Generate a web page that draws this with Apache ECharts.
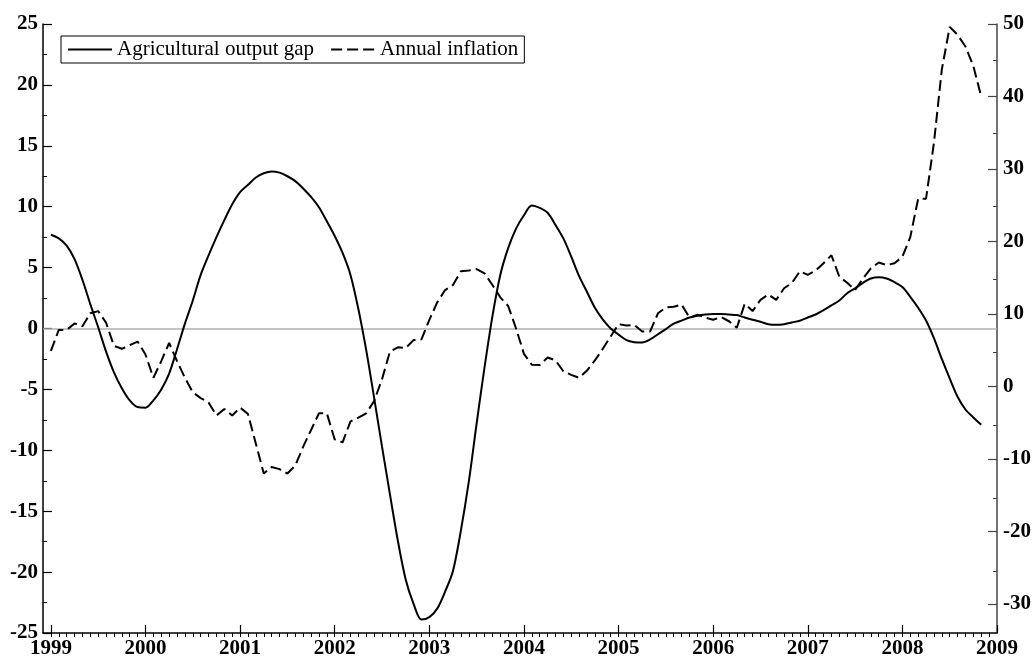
<!DOCTYPE html>
<html>
<head>
<meta charset="utf-8">
<script src="https://cdn.jsdelivr.net/npm/echarts@6/dist/echarts.min.js"></script>
<style>
html,body{margin:0;padding:0;background:#fff;}
#chart{width:1035px;height:659px;}
</style>
</head>
<body>
<div id="chart"></div>
<script>
// ---- data (monthly, starting January 1999) ----
const startYear = 1999;
const seriesNames = ['Agricultural output gap', 'Annual inflation'];
const gapValues = [
  7.7, 7.4, 6.8, 5.7, 4.0, 2.0, 0.1, -1.9, -3.6, -4.9, -5.9, -6.45,
  -6.5, -5.9, -5.0, -3.7, -1.7, 0.4, 2.3, 4.4, 6.0, 7.5, 8.9, 10.2,
  11.2, 11.8, 12.4, 12.75, 12.9, 12.8, 12.5, 12.1, 11.5, 10.8, 9.95, 8.8,
  7.6, 6.2, 4.4, 1.6, -1.8, -5.7, -9.7, -13.6, -17.4, -20.6, -22.6, -23.9,
  -23.7, -23.0, -21.6, -19.9, -16.6, -12.6, -7.8, -3.2, 1.0, 4.4, 6.6, 8.2,
  9.3, 10.1, 9.9, 9.5, 8.5, 7.4, 5.9, 4.3, 3.0, 1.7, 0.75, 0.0,
  -0.5, -0.95, -1.12, -1.15, -0.9, -0.47, -0.05, 0.4, 0.65, 0.9, 1.05, 1.15,
  1.2, 1.2, 1.15, 1.1, 0.9, 0.72, 0.55, 0.35, 0.3, 0.35, 0.5, 0.64,
  0.9, 1.15, 1.5, 1.9, 2.3, 2.9, 3.3, 3.75, 4.1, 4.2, 4.1, 3.8,
  3.4, 2.6, 1.7, 0.65, -0.8, -2.5, -4.1, -5.6, -6.65, -7.3, -7.9
];
const inflationValues = [
  4.9, 7.8, 7.8, 8.7, 8.3, 10.1, 10.4, 8.8, 5.6, 5.2, 5.7, 6.2,
  4.4, 1.2, 3.5, 6.0, 3.5, 1.2, -0.8, -1.6, -2.2, -4.0, -3.1, -4.0,
  -2.9, -3.8, -7.9, -12.0, -11.1, -11.4, -12.0, -10.9, -8.3, -6.0, -3.7, -3.7,
  -7.3, -7.7, -4.8, -4.3, -3.7, -2.0, 1.0, 4.8, 5.4, 5.3, 6.4, 6.5,
  9.2, 11.6, 13.3, 14.0, 15.9, 16.0, 16.2, 15.6, 14.0, 12.3, 11.1, 8.0,
  4.5, 3.0, 2.95, 4.0, 3.6, 2.1, 1.6, 1.2, 2.2, 3.6, 5.2, 6.9,
  8.6, 8.4, 8.5, 7.6, 7.6, 10.1, 10.9, 11.0, 11.3, 9.5, 9.9, 9.5,
  9.2, 9.6, 9.0, 8.1, 11.4, 10.4, 11.95, 12.7, 11.95, 13.55, 14.3, 15.9,
  15.4, 16.0, 17.0, 18.1, 15.15, 14.3, 13.3, 14.9, 16.3, 17.1, 16.75, 17.0,
  17.9, 20.6, 25.9, 25.9, 33.6, 43.7, 49.6, 48.5, 46.9, 44.2, 40.0
];
// ---- tick labels ----
const yearTicks = [1999, 2000, 2001, 2002, 2003, 2004, 2005, 2006, 2007, 2008, 2009];
const rightMajorTicks = [-30, -20, -10, 0, 10, 20, 30, 40, 50];
const rightMinorTicks = [-25, -15, -5, 5, 15, 25, 35, 45];

const monthTicks = [];
for (let y = 1999; y < 2009; y++) for (let k = 0; k < 12; k++) monthTicks.push(y + k / 12);

const xMin = 1999 - 1 / 12, xMax = 2009;
const leftMin = -25, leftMax = 25;
const rightMin = -34, rightMax = 50;

const gapData = gapValues.map((v, i) => [startYear + i / 12, v]);
const inflData = inflationValues.map((v, i) => [startYear + i / 12, v]);

const labelFont = {fontFamily: 'Liberation Serif', fontWeight: 'bold', fontSize: 21, color: '#000'};
const gridRect = {left: 43, right: 38, top: 24, bottom: 22};

const chart = echarts.init(document.getElementById('chart'), null, {renderer: 'canvas'});
chart.setOption({
  animation: false,
  backgroundColor: '#fff',
  grid: [Object.assign({}, gridRect), Object.assign({}, gridRect)],
  legend: {
    left: 61, top: 36,
    orient: 'horizontal',
    backgroundColor: '#fff',
    borderColor: '#000', borderWidth: 1,
    padding: [3, 6, 3, 6],
    itemWidth: 44, itemHeight: 14, itemGap: 16,
    itemStyle: {opacity: 0},
    textStyle: {fontFamily: 'Liberation Serif', fontSize: 21, color: '#000'},
    data: seriesNames
  },
  xAxis: [{
    type: 'value', gridIndex: 0, min: xMin, max: xMax, position: 'bottom',
    axisLine: {show: true, onZero: false, lineStyle: {color: '#000', width: 1.5}},
    axisTick: {show: true, inside: true, length: 8, customValues: yearTicks, lineStyle: {color: '#000', width: 1.2}},
    axisLabel: Object.assign({customValues: yearTicks, margin: 5, formatter: v => String(Math.round(v))}, labelFont),
    splitLine: {show: false}
  }, {
    type: 'value', gridIndex: 1, min: xMin, max: xMax, position: 'bottom',
    axisLine: {show: false, onZero: false},
    axisTick: {show: true, inside: true, length: 4, customValues: monthTicks, lineStyle: {color: '#000', width: 1}},
    axisLabel: {show: false},
    splitLine: {show: false}
  }],
  yAxis: [{
    type: 'value', gridIndex: 0, min: leftMin, max: leftMax, interval: 5, position: 'left',
    axisLine: {show: true, onZero: false, lineStyle: {color: '#000', width: 1.5}},
    axisTick: {show: true, inside: true, length: 9, lineStyle: {color: '#000', width: 1.2}},
    minorTick: {show: true, splitNumber: 2, length: 4, lineStyle: {color: '#000', width: 1}},
    axisLabel: Object.assign({margin: 5}, labelFont),
    splitLine: {show: false}
  }, {
    type: 'value', gridIndex: 0, min: rightMin, max: rightMax, position: 'right',
    axisLine: {show: true, onZero: false, lineStyle: {color: '#444', width: 1.5}},
    axisTick: {show: true, inside: true, length: 9, customValues: rightMajorTicks, lineStyle: {color: '#444', width: 1.2}},
    axisLabel: Object.assign({customValues: rightMajorTicks, margin: 6}, labelFont),
    splitLine: {show: false}
  }, {
    type: 'value', gridIndex: 1, min: rightMin, max: rightMax, position: 'right',
    axisLine: {show: false, onZero: false},
    axisTick: {show: true, inside: true, length: 4, customValues: rightMinorTicks, lineStyle: {color: '#444', width: 1}},
    axisLabel: {show: false},
    splitLine: {show: false}
  }],
  series: [{
    name: seriesNames[0], type: 'line', xAxisIndex: 0, yAxisIndex: 0,
    data: gapData, symbol: 'none', smooth: 0.3, z: 3,
    lineStyle: {color: '#000', width: 2, type: 'solid'},
    itemStyle: {color: '#000'},
    markLine: {
      silent: true, symbol: ['none', 'none'], label: {show: false},
      lineStyle: {color: '#b0b0b0', width: 1.5, type: 'solid'},
      z: 1,
      data: [{yAxis: 0}]
    }
  }, {
    name: seriesNames[1], type: 'line', xAxisIndex: 0, yAxisIndex: 1,
    data: inflData, symbol: 'none', z: 3,
    lineStyle: {color: '#000', width: 2, type: [11, 5]},
    itemStyle: {color: '#000'}
  }]
});
</script>
</body>
</html>
